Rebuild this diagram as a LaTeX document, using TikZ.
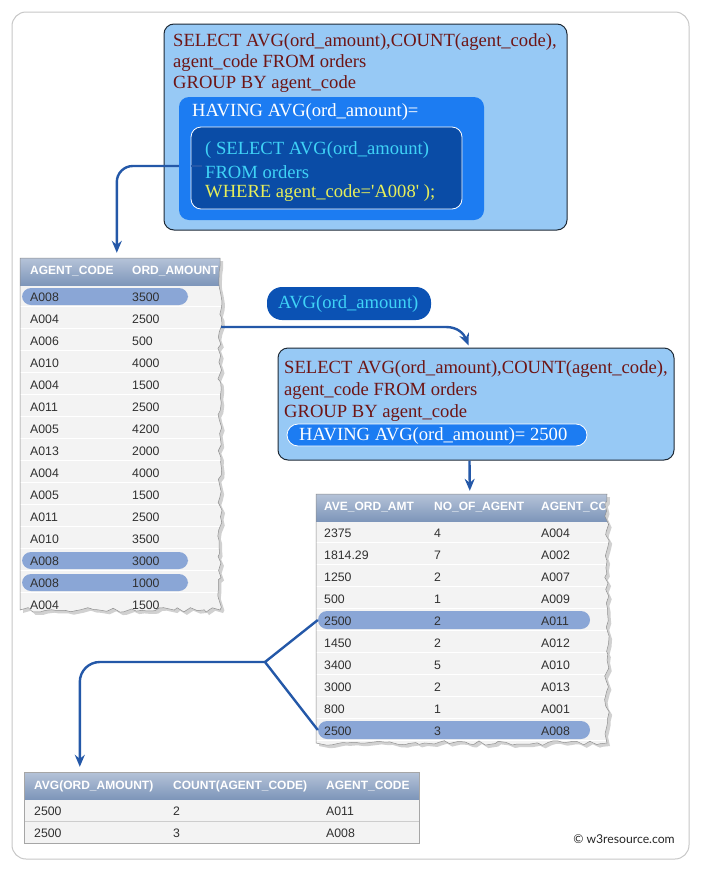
\documentclass[tikz,border=0pt]{standalone}
\usepackage{fontspec}
\setmainfont{Liberation Serif}
\setsansfont{Liberation Sans}
\newfontfamily\latofont{Lato}
\usetikzlibrary{decorations.pathmorphing,arrows.meta,calc,fit}
\definecolor{qboxc}{HTML}{97C9F5}
\definecolor{qborder}{HTML}{1F2A36}
\definecolor{havec}{HTML}{1C7CF2}
\definecolor{innerc}{HTML}{0A4CA6}
\definecolor{dred}{HTML}{6E1515}
\definecolor{cyant}{HTML}{3FD3F7}
\definecolor{yellowt}{HTML}{E6EE5A}
\definecolor{avgc}{HTML}{0B52B4}
\definecolor{hdrtop}{HTML}{B5C3D8}
\definecolor{hdrbot}{HTML}{7E96BA}
\definecolor{rowc}{HTML}{F3F3F3}
\definecolor{sepc}{HTML}{CDCDCD}
\definecolor{hlc}{HTML}{8AA6D6}
\definecolor{connc}{HTML}{2458A8}
\definecolor{cellt}{HTML}{303030}
\tikzset{
  qbox/.style={draw=qborder, fill=qboxc, line width=1pt, rounded corners=10pt, inner sep=0pt},
  havebox/.style={fill=havec, rounded corners=10pt, inner sep=0pt},
  innerbox/.style={fill=innerc, draw=white, line width=0.8pt, rounded corners=10pt, inner sep=0pt},
  qfont/.style={font=\fontsize{18.6}{21}\selectfont, anchor=west, inner sep=0pt},
  qtext/.style={qfont, text=dred},
  hdr/.style={text=white, font=\sffamily\bfseries\fontsize{12}{14}\selectfont, anchor=west, inner sep=0pt},
  cell/.style={text=cellt, font=\sffamily\fontsize{12.3}{14}\selectfont, anchor=west, inner sep=0pt},
  hlpill/.style={fill=hlc, rounded corners=9pt, inner sep=0pt},
  conn/.style={draw=connc, line width=2.4pt, rounded corners=16pt},
  tipped/.style={conn, -{Stealth[length=12pt,width=10pt,inset=4pt]}},
  torn/.style={decoration={random steps, segment length=6pt, amplitude=2.4pt}},
  tornline/.style={draw=black!45, line width=0.5pt},
  tshadow/.style={fill=black!40, opacity=0.45},
}
\begin{document}
\begin{tikzpicture}[x=1pt,y=-1pt]
\useasboundingbox (0,0) rectangle (701,873);
\fill[white] (0,0) rectangle (701,873);
\draw[black!22, line width=1pt, rounded corners=14pt] (12,12) rectangle (689,859);

% ---------------- left table ----------------
\node[fit={(20,258)(220,610)}, inner sep=0pt] (ltab) {};
\begin{scope}[torn, shift={(3,3)}]
\pgfmathsetseed{11}
\fill[tshadow] (20,258) -- (220,258) decorate{-- (220,610) -- (20,610)} -- cycle;
\end{scope}
\begin{scope}[torn]
\pgfmathsetseed{11}
\clip (20,258) -- (220,258) decorate{-- (220,610) -- (20,610)} -- cycle;
\fill[white] (0,250) rectangle (240,620);
\foreach \i in {0,...,14} {
  \fill[rowc] (20,{285+22*\i}) rectangle (230,{306+22*\i});
  \draw[sepc] (20,{307+22*\i}) -- (230,{307+22*\i});
}
\shade[top color=hdrtop, bottom color=hdrbot] (20,258) rectangle (230,285);
\node[hlpill, fit={(22,288)(188,305)}] (lhl0) {};
\node[hlpill, fit={(22,552)(188,569)}] (lhl12) {};
\node[hlpill, fit={(22,574)(188,591)}] (lhl13) {};
\node[hdr] (lh1) at (30,271) {AGENT\_CODE};
\node[hdr] (lh2) at (132,271) {ORD\_AMOUNT};
\foreach \a/\b [count=\i from 0] in {A008/3500,A004/2500,A006/500,A010/4000,A004/1500,A011/2500,A005/4200,A013/2000,A004/4000,A005/1500,A011/2500,A010/3500,A008/3000,A008/1000,A004/1500} {
  \node[cell] (l-\i-a) at (30,{297+22*\i}) {\a};
  \node[cell] (l-\i-b) at (132,{297+22*\i}) {\b};
}
\end{scope}
\begin{scope}[torn]
\pgfmathsetseed{11}
\draw[tornline] (20,258) -- (220,258) decorate{-- (220,610) -- (20,610)} -- cycle;
\end{scope}

% ---------------- right table ----------------
\node[fit={(316,494)(607,743)}, inner sep=0pt] (rtab) {};
\begin{scope}[torn, shift={(3,3)}]
\pgfmathsetseed{5}
\fill[tshadow] (316,494) -- (607,494) decorate{-- (607,743) -- (316,743)} -- cycle;
\end{scope}
\begin{scope}[torn]
\pgfmathsetseed{5}
\clip (316,494) -- (607,494) decorate{-- (607,743) -- (316,743)} -- cycle;
\fill[white] (300,480) rectangle (620,760);
\foreach \i in {0,...,10} {
  \fill[rowc] (316,{521+22*\i}) rectangle (620,{542+22*\i});
  \draw[sepc] (316,{543+22*\i}) -- (620,{543+22*\i});
}
\shade[top color=hdrtop, bottom color=hdrbot] (316,494) rectangle (620,521);
\node[hlpill, fit={(318,611)(590,629)}] (rhl4) {};
\node[hlpill, fit={(318,721)(590,739)}] (rhl9) {};
\node[hdr] (rh1) at (324,507) {AVE\_ORD\_AMT};
\node[hdr] (rh2) at (434,507) {NO\_OF\_AGENT};
\node[hdr] (rh3) at (541,507) {AGENT\_CODE};
\foreach \a/\b/\c [count=\i from 0] in {2375/4/A004,1814.29/7/A002,1250/2/A007,500/1/A009,2500/2/A011,1450/2/A012,3400/5/A010,3000/2/A013,800/1/A001,2500/3/A008} {
  \node[cell] (r-\i-a) at (324,{533+22*\i}) {\a};
  \node[cell] (r-\i-b) at (434,{533+22*\i}) {\b};
  \node[cell] (r-\i-c) at (541,{533+22*\i}) {\c};
}
\end{scope}
\begin{scope}[torn]
\pgfmathsetseed{5}
\draw[tornline] (316,494) -- (607,494) decorate{-- (607,743) -- (316,743)} -- cycle;
\end{scope}

% ---------------- bottom table ----------------
\node[fit={(24,772)(419,843)}, inner sep=0pt] (btab) {};
\fill[rowc] (24,799) rectangle (419,843);
\draw[sepc] (24,821) -- (419,821);
\shade[top color=hdrtop, bottom color=hdrbot] (24,772) rectangle (419,799);
\draw[black!35, line width=0.6pt] (24,772) rectangle (419,843);
\node[hdr] (bh1) at (34,786) {AVG(ORD\_AMOUNT)};
\node[hdr] (bh2) at (173,786) {COUNT(AGENT\_CODE)};
\node[hdr] (bh3) at (326,786) {AGENT\_CODE};
\node[cell] (b-0-a) at (34,811) {2500};
\node[cell] (b-0-b) at (173,811) {2};
\node[cell] (b-0-c) at (326,811) {A011};
\node[cell] (b-1-a) at (34,833) {2500};
\node[cell] (b-1-b) at (173,833) {3};
\node[cell] (b-1-c) at (326,833) {A008};

% ---------------- top query ----------------
\node[qbox, fit={(164,24)(567,230)}] (q1) {};
\node[qtext] (q1a) at (173,42) {SELECT AVG(ord\_amount),COUNT(agent\_code),};
\node[qtext] (q1b) at (173,63) {agent\_code FROM orders};
\node[qtext] (q1c) at (173,84) {GROUP BY agent\_code};
\coordinate (a1s) at (202,166);
\draw[tipped] (a1s) -| ($(ltab.north west)+(97,-5)$);
\node[havebox, fit={(179,97)(484,220)}] (q1have) {};
\node[qfont, text=white] (q1h) at (192,112) {HAVING AVG(ord\_amount)=};
\node[innerbox, fit={(191,127)(462,209)}] (q1in) {};
\node[qfont, text=cyant] (q1i1) at (205,150) {( SELECT AVG(ord\_amount)};
\node[qfont, text=cyant] (q1i2) at (205,172) {FROM orders};
\node[qfont, text=yellowt] (q1i3) at (205,193) {WHERE agent\_code=\textquotesingle A008\textquotesingle\ );};
\draw[conn] (q1in.west |- a1s) -- (a1s);

% ---------------- AVG pill ----------------
\node[fill=avgc, rounded corners=15pt, fit={(267,287)(431,320)}, inner sep=0pt] (avg) {};
\node[qfont, text=cyant] (avgt) at (278,304) {AVG(ord\_amount)};

% ---------------- middle query ----------------
\node[qbox, fit={(278,348)(674,460)}] (q2) {};
\node[qtext] (q2a) at (284,369) {SELECT AVG(ord\_amount),COUNT(agent\_code),};
\node[qtext] (q2b) at (284,391) {agent\_code FROM orders};
\node[qtext] (q2c) at (284,413) {GROUP BY agent\_code};
\node[fill=havec, draw=white, line width=0.8pt, rounded corners=11pt, fit={(287,424)(587,446)}, inner sep=0pt] (q2have) {};
\node[qfont, text=white] (q2h) at (299,436) {HAVING AVG(ord\_amount)= 2500};

% ---------------- connectors ----------------
\coordinate (a2s) at (221,327);
\draw[tipped, rounded corners=0pt] (a2s) -- (446,327) .. controls (458,327) and (464,334) .. ($(q2.north west)+(191,-2)$);
\draw[tipped, rounded corners=0pt] ($(q2.south west)+(192,0)$) -- ($(rtab.north west)+(154,-3)$);
\coordinate (br) at (265,662);
\draw[conn, rounded corners=0pt] (rhl4.west) -- (br) -- (rhl9.west);
\draw[tipped, rounded corners=20pt] (br) -| ($(btab.north west)+(56,-5)$);

% ---------------- copyright ----------------
\node[font=\latofont\fontsize{12.2}{14}\selectfont, text=black!85, inner sep=0pt] (copy) at (624,839) {© w3resource.com};
\end{tikzpicture}
\end{document}
